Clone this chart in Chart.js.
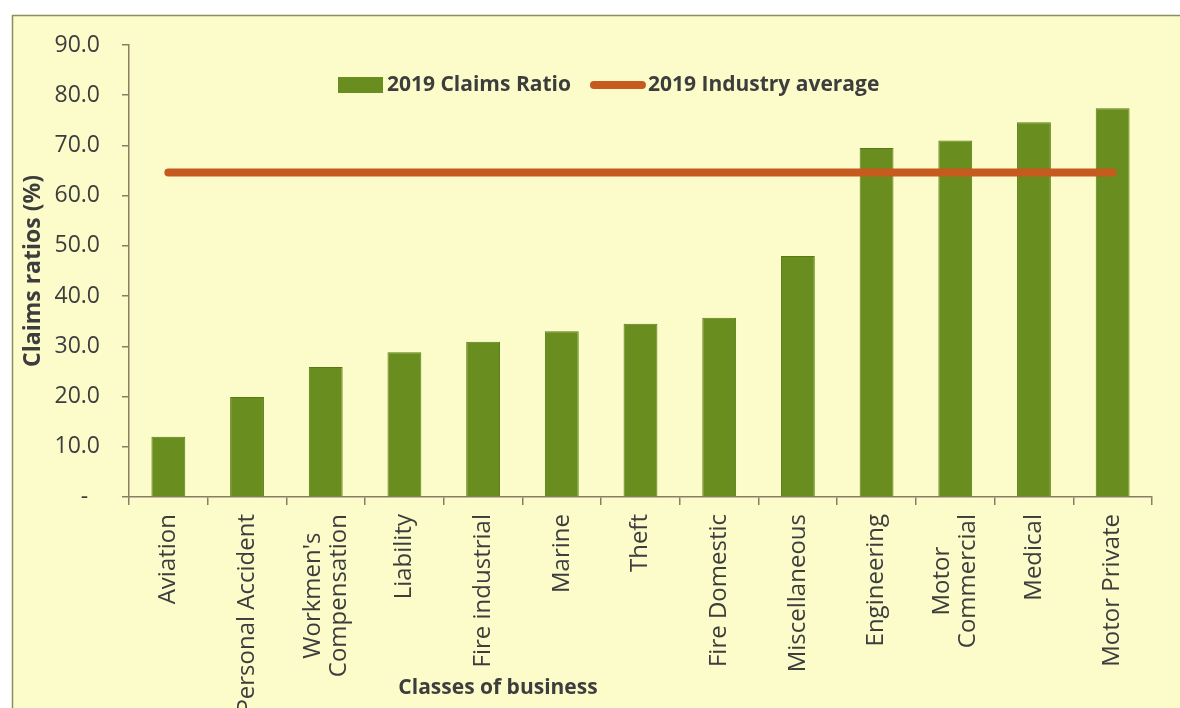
<!DOCTYPE html>
<html>
<head>
<meta charset="utf-8">
<title>Claims ratios by class of business, 2019</title>
<script src="https://cdn.jsdelivr.net/npm/chart.js@4"></script>
<style>
  html, body { margin: 0; padding: 0; background: #ffffff; }
  canvas { display: block; }
</style>
</head>
<body>
<canvas id="claimsChart" width="1180" height="708"></canvas>
<script>
const classes = [
  'Aviation', 'Personal Accident', ["Workmen's", 'Compensation'], 'Liability',
  'Fire industrial', 'Marine', 'Theft', 'Fire Domestic', 'Miscellaneous',
  'Engineering', ['Motor', 'Commercial'], 'Medical', 'Motor Private'
];
const claimsRatio = [12.0, 19.9, 25.9, 28.8, 30.9, 33.0, 34.5, 35.7, 48.0, 69.5, 71.0, 74.6, 77.4];
const industryAverage = 64.6;
const yTicks = [0, 10, 20, 30, 40, 50, 60, 70, 80, 90];

const AXIS = '#8a7d66';
const TEXT = '#3d3d3d';
const BG = '#fbfcc9';
const GREEN = '#6a8d1f';
const ORANGE = '#c65a1f';
const FONT = "'Open Sans', sans-serif";

// page panel: white margin, pale yellow box with a thin frame
const panel = {
  id: 'panel',
  beforeDraw(chart) {
    const ctx = chart.ctx;
    ctx.save();
    ctx.fillStyle = '#ffffff';
    ctx.fillRect(0, 0, chart.width, chart.height);
    ctx.fillStyle = BG;
    ctx.fillRect(12, 15, chart.width, chart.height);
    ctx.strokeStyle = '#8e8b5e';
    ctx.lineWidth = 1.5;
    ctx.strokeRect(12.5, 15.5, chart.width + 10, chart.height + 10);
    ctx.restore();
  }
};

// rotated category names (two-line ones centred on each other) and axis caption
const categoryLabels = {
  id: 'categoryLabels',
  afterDraw(chart) {
    const ctx = chart.ctx;
    const x = chart.scales.x;
    const top = chart.chartArea.bottom + 17;
    ctx.save();
    ctx.fillStyle = TEXT;
    ctx.font = '24px ' + FONT;
    ctx.textBaseline = 'middle';
    classes.forEach((label, i) => {
      const lines = Array.isArray(label) ? label : [label];
      const lh = 26;
      const widths = lines.map(l => ctx.measureText(l).width);
      const maxW = Math.max(...widths);
      const cx = x.getPixelForValue(i);
      lines.forEach((line, j) => {
        const off = (j - (lines.length - 1) / 2) * lh;
        ctx.save();
        ctx.translate(cx + off, top);
        ctx.rotate(-Math.PI / 2);
        ctx.textAlign = 'center';
        ctx.fillText(line, -maxW / 2, 0);
        ctx.restore();
      });
    });
    ctx.font = 'bold 21px ' + FONT;
    ctx.textAlign = 'center';
    ctx.fillText('Classes of business', 498, 688);
    ctx.restore();
  }
};

// legend sitting inside the plot area
const insideLegend = {
  id: 'insideLegend',
  afterDraw(chart) {
    const ctx = chart.ctx;
    const y = chart.chartArea.top + 40;
    let xPos = 338;
    ctx.save();
    ctx.font = 'bold 21px ' + FONT;
    ctx.textBaseline = 'middle';
    ctx.textAlign = 'left';
    ctx.fillStyle = GREEN;
    ctx.fillRect(xPos, y - 8, 45, 16);
    ctx.fillStyle = TEXT;
    const t1 = chart.data.datasets[0].label;
    ctx.fillText(t1, xPos + 49, y);
    xPos += 49 + ctx.measureText(t1).width + 23;
    ctx.strokeStyle = ORANGE;
    ctx.lineWidth = 8;
    ctx.lineCap = 'round';
    ctx.beginPath();
    ctx.moveTo(xPos, y);
    ctx.lineTo(xPos + 48, y);
    ctx.stroke();
    ctx.fillText(chart.data.datasets[1].label, xPos + 54, y);
    ctx.restore();
  }
};

new Chart(document.getElementById('claimsChart'), {
  type: 'bar',
  data: {
    labels: classes,
    datasets: [
      {
        label: '2019 Claims Ratio',
        data: claimsRatio,
        backgroundColor: GREEN,
        borderColor: '#587a16',
        borderWidth: 1,
        categoryPercentage: 1,
        barPercentage: 0.43,
        order: 1
      },
      {
        type: 'line',
        label: '2019 Industry average',
        data: classes.map(() => industryAverage),
        borderColor: ORANGE,
        borderWidth: 8,
        borderCapStyle: 'round',
        pointRadius: 0,
        fill: false,
        order: 0
      }
    ]
  },
  options: {
    responsive: false,
    animation: false,
    layout: { padding: { top: 45, right: 28, bottom: 0, left: 0 } },
    plugins: {
      legend: { display: false },
      tooltip: { enabled: false }
    },
    scales: {
      x: {
        ticks: { display: false },
        grid: { drawOnChartArea: false, color: AXIS, tickLength: 8, lineWidth: 1.5 },
        border: { color: AXIS, width: 1.5 },
        afterFit(scale) { scale.height = 211; }
      },
      y: {
        min: 0,
        max: 90,
        afterBuildTicks(scale) { scale.ticks = yTicks.map(v => ({ value: v })); },
        ticks: {
          padding: 22,
          color: TEXT,
          font: { family: FONT, size: 23 },
          callback: v => (v === 0 ? '-  ' : v.toFixed(1))
        },
        grid: { drawOnChartArea: false, color: AXIS, tickLength: 7, lineWidth: 1.5 },
        border: { color: AXIS, width: 1.5 },
        title: {
          display: true,
          text: 'Claims ratios (%)',
          color: TEXT,
          font: { family: FONT, size: 23, weight: 'bold' },
          padding: { top: 20, bottom: 0 }
        },
        afterFit(scale) { scale.width = 129; }
      }
    }
  },
  plugins: [panel, categoryLabels, insideLegend]
});
</script>
</body>
</html>
